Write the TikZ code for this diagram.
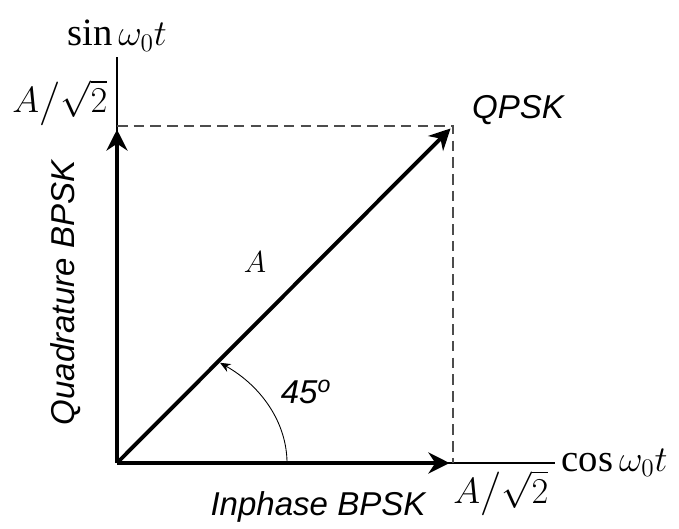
\documentclass[tikz,border=0pt]{standalone}
\usepackage{amsmath}
\usepackage{fontspec}
\setmainfont{Liberation Serif}
\newfontfamily\labelfont{Liberation Sans}
\usetikzlibrary{arrows.meta}

\tikzset{
  vec/.style={line width=2.2pt, -{Stealth[length=12pt,width=12pt]}, shorten >=2pt},
  axis/.style={line width=0.8pt},
  guide/.style={line width=0.8pt, dash pattern=on 6pt off 3.5pt, black!70},
  sanslabel/.style={font=\labelfont\itshape\fontsize{18.8}{20}\selectfont},
  mathlabel/.style={font=\fontsize{22}{26}\selectfont},
}

\begin{document}
\begin{tikzpicture}[>=stealth]
  \useasboundingbox (-2.34,-1.30) rectangle (11.24,9.26);

  \coordinate (O) at (0,0);
  \coordinate (X) at (8.76,0);
  \coordinate (Y) at (0,8.12);
  \coordinate (Q) at (6.72,6.74); % QPSK point
  \coordinate (Qx) at (Q |- O);
  \coordinate (Qy) at (Q -| O);
  \coordinate (arcstart) at (3.4,0);

  % Axes
  \draw[axis] (O) -- (X) node[mathlabel, right] (cosl) {$\cos\omega_0 t$};
  \draw[axis] (O) -- (Y) node[mathlabel, above, inner sep=0pt, yshift=3pt] (sinl) {$\sin\omega_0 t$};

  % Projections
  \draw[guide] (Qy) -- (Q) -- (Qx);

  % Vectors
  \draw[vec] (O) -- (Qy);
  \draw[vec] (O) -- (Qx);
  \draw[vec] (O) -- (Q);

  % Angle 45
  \draw[line width=0.5pt, -{Stealth[length=6pt,width=5pt]}] (arcstart)
    arc[start angle=0, end angle=52.7, x radius=3.4, y radius=2.52];

  % Labels
  \node[mathlabel, anchor=south east, inner ysep=0pt, xshift=-2pt] (ayl) at (Qy) {$A\big/\sqrt{2}$};
  \node[mathlabel, anchor=north west, inner xsep=0pt, inner ysep=4pt] (axl) at (Qx) {$A\big/\sqrt{2}$};
  \node[sanslabel, anchor=west] (qpsk) at (6.98,7.06) {QPSK};
  \node[sanslabel] (inph) at (4.02,-0.88) {Inphase BPSK};
  \node[sanslabel, rotate=90] (quad) at (-1.02,3.4) {Quadrature BPSK};
  \node[font=\fontsize{18}{20}\selectfont] (alabel) at (2.76,4.02) {$A$};
  \node[sanslabel] (ang) at (3.78,1.42) {45\textsuperscript{o}};
\end{tikzpicture}
\end{document}
